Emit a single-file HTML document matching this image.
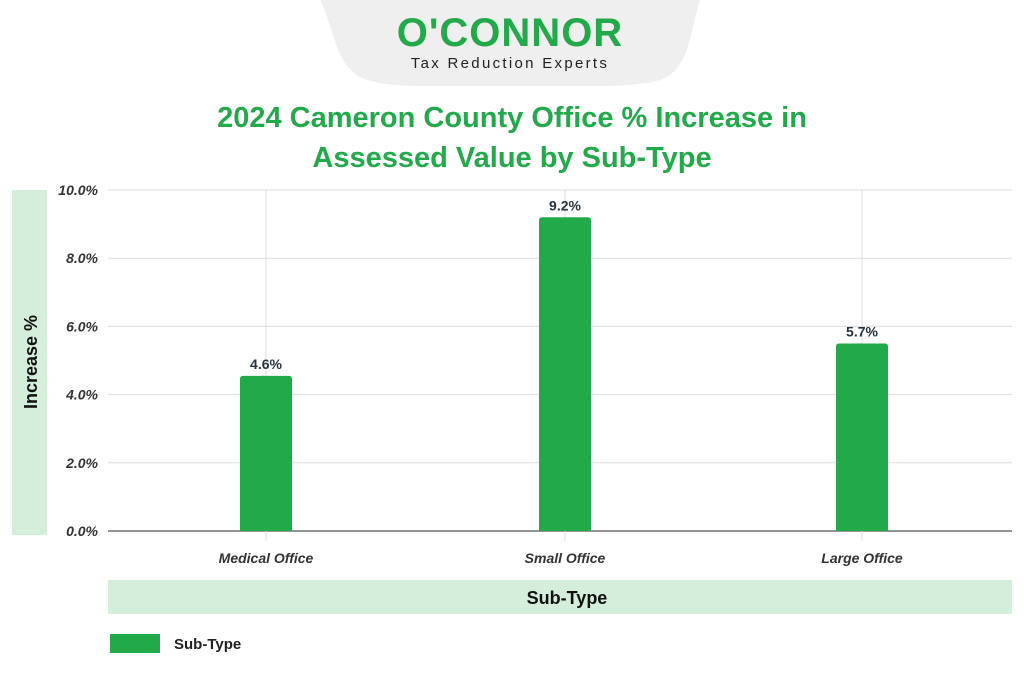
<!DOCTYPE html>
<html><head><meta charset="utf-8"><style>
html,body{margin:0;padding:0;background:#fff;}
body{width:1024px;height:672px;overflow:hidden;font-family:"Liberation Sans",sans-serif;}
</style></head><body>
<svg id="c" width="1024" height="672" viewBox="0 0 1024 672">
  <path d="M320,0 L700,0 C690,30 690,70 660,80 Q640,86 600,86 L420,86 Q380,86 362,78 C335,65 335,30 320,0 Z" fill="#efefef"/>
  <text x="510" y="46" text-anchor="middle" font-size="40" font-weight="bold" fill="#22a94a" letter-spacing="1">O'CONNOR</text>
  <text x="510" y="68" text-anchor="middle" font-size="15" fill="#222" letter-spacing="2.3">Tax Reduction Experts</text>
  <text x="512" y="127" text-anchor="middle" font-size="29" font-weight="bold" fill="#22a94a">2024 Cameron County Office % Increase in</text>
  <text x="512" y="167" text-anchor="middle" font-size="29" font-weight="bold" fill="#22a94a">Assessed Value by Sub-Type</text>
  <rect x="12" y="190" width="35" height="345" fill="#d4eedb"/>
  <text transform="translate(37,362) rotate(-90)" text-anchor="middle" font-size="18" font-weight="bold" fill="#111">Increase %</text>
  <rect x="108" y="580" width="904" height="34" fill="#d4eedb"/>
  <text x="567" y="604" text-anchor="middle" font-size="18" font-weight="bold" fill="#111">Sub-Type</text>
  <rect x="110" y="634" width="50" height="19" fill="#22a94a"/>
  <text x="174" y="649" font-size="15" font-weight="bold" fill="#222">Sub-Type</text>
  <g id="plot"></g>
</svg>
<script>
const categories = ["Medical Office", "Small Office", "Large Office"];
const values = [4.55, 9.2, 5.5];
const valueLabels = ["4.6%", "9.2%", "5.7%"];
const yTicks = [0, 2, 4, 6, 8, 10];
const yTickLabels = ["0.0%", "2.0%", "4.0%", "6.0%", "8.0%", "10.0%"];

const NS = "http://www.w3.org/2000/svg";
const plot = document.getElementById("plot");
const X0 = 108, X1 = 1012, Y0 = 531, Y1 = 190, YMAX = 10;
const y = v => Y0 - (v / YMAX) * (Y0 - Y1);
const centers = [266, 565, 862];
const x = i => centers[i];
function mk(tag, attrs) { const e = document.createElementNS(NS, tag); for (const k in attrs) e.setAttribute(k, attrs[k]); plot.appendChild(e); return e; }

yTicks.forEach((t, i) => {
  const g = mk("line", {x1: X0, x2: X1, y1: y(t), y2: y(t), stroke: t === 0 ? "#555" : "#ddd", "stroke-width": t === 0 ? 1.3 : 1});
  
  
  const l = mk("text", {x: 98, y: y(t) + 5, "text-anchor": "end", "font-size": 14, "font-weight": "bold", "font-style": "italic", fill: "#333"});
  l.textContent = yTickLabels[i];
  
  
});
categories.forEach((c, i) => {
  const v = mk("line", {x1: x(i), x2: x(i), y1: Y1, y2: Y0 + 10, stroke: "#ddd", "stroke-width": 1});
  
  
  const bw = 52, top = y(values[i]);
  const b = mk("path", {d: `M${x(i)-bw/2},${Y0} L${x(i)-bw/2},${top+3} Q${x(i)-bw/2},${top} ${x(i)-bw/2+3},${top} L${x(i)+bw/2-3},${top} Q${x(i)+bw/2},${top} ${x(i)+bw/2},${top+3} L${x(i)+bw/2},${Y0} Z`, fill: "#22a94a"});
  
  
  const vl = mk("text", {x: x(i), y: top - 7, "text-anchor": "middle", "font-size": 14, "font-weight": "bold", fill: "#2a3340"});
  vl.textContent = valueLabels[i];
  
  
  const cl = mk("text", {x: x(i), y: 563, "text-anchor": "middle", "font-size": 14, "font-weight": "bold", "font-style": "italic", fill: "#333"});
  cl.textContent = c;
  
  
});
</script>
</body></html>
